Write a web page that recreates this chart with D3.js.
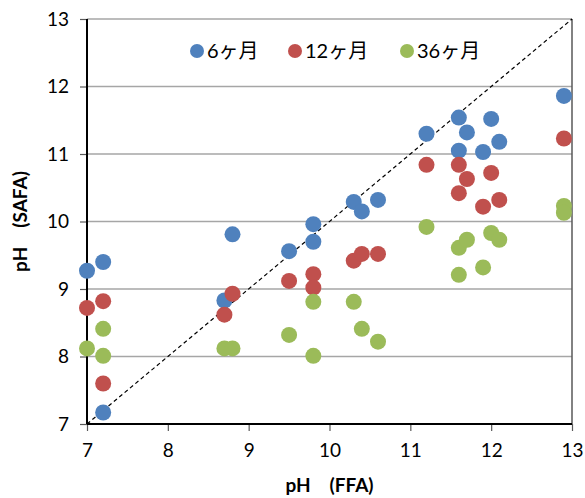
<!DOCTYPE html>
<html>
<head>
<meta charset="utf-8">
<script src="https://cdn.jsdelivr.net/npm/d3@7"></script>
<style>
  body { margin: 0; background: #fff; }
  text { font-family: Lato, "Noto Sans CJK JP", sans-serif; }
</style>
</head>
<body>
<svg width="585" height="498"></svg>
<script>
// series: pH by FFA (x) vs pH by SAFA (y)
var seriesNames = ["6ヶ月", "12ヶ月", "36ヶ月"];
var seriesColors = ["#4F81BD", "#C0504D", "#9BBB59"];

var m6x = [7.0, 7.2, 7.2, 8.7, 8.8, 9.5, 9.8, 9.8, 10.3, 10.4, 10.6, 11.2, 11.6, 11.7, 11.6, 11.9, 12.0, 12.1, 12.9];
var m6y = [9.27, 9.40, 7.17, 8.83, 9.81, 9.56, 9.96, 9.70, 10.29, 10.15, 10.32, 11.30, 11.54, 11.32, 11.05, 11.03, 11.52, 11.18, 11.86];

var m12x = [7.0, 7.2, 7.2, 8.7, 8.8, 9.5, 9.8, 9.8, 10.3, 10.4, 10.6, 11.2, 11.6, 11.7, 11.6, 11.9, 12.0, 12.1, 12.9];
var m12y = [8.72, 8.82, 7.60, 8.62, 8.93, 9.12, 9.22, 9.02, 9.42, 9.52, 9.52, 10.84, 10.84, 10.63, 10.42, 10.22, 10.72, 10.32, 11.23];

var m36x = [7.0, 7.2, 7.2, 8.7, 8.8, 9.5, 9.8, 9.8, 10.3, 10.4, 10.6, 11.2, 11.6, 11.7, 11.6, 11.9, 12.0, 12.1, 12.9, 12.9];
var m36y = [8.12, 8.41, 8.01, 8.12, 8.12, 8.32, 8.81, 8.01, 8.81, 8.41, 8.22, 9.92, 9.61, 9.73, 9.21, 9.32, 9.83, 9.73, 10.23, 10.13];

var xTicks = [7, 8, 9, 10, 11, 12, 13];
var yTicks = [7, 8, 9, 10, 11, 12, 13];
var diag = [7, 13];

var svg = d3.select("svg");
var margin = {left: 87, right: 13, top: 19, bottom: 74};
var W = 585 - margin.left - margin.right;
var H = 498 - margin.top - margin.bottom;

var x = d3.scaleLinear().domain([7, 13]).range([0, W]);
var y = d3.scaleLinear().domain([7, 13]).range([H, 0]);

var g = svg.append("g").attr("transform", "translate(" + margin.left + "," + margin.top + ")");

// gridlines
g.selectAll(".grid").data(yTicks.slice(1)).enter().append("line")
  .attr("x1", 0).attr("x2", W)
  .attr("y1", function(d){ return y(d); }).attr("y2", function(d){ return y(d); })
  .attr("stroke", "#a6a6a6").attr("stroke-width", 1.5);

// right border
g.append("line").attr("x1", W).attr("x2", W).attr("y1", 0).attr("y2", H)
  .attr("stroke", "#595959").attr("stroke-width", 1.5);

// axes
var xAxis = d3.axisBottom(x).tickValues(xTicks).tickSize(7).tickPadding(13).tickFormat(d3.format("d"));
var yAxis = d3.axisLeft(y).tickValues(yTicks).tickSize(7).tickPadding(11).tickFormat(d3.format("d"));

var xa = g.append("g").attr("transform", "translate(0," + H + ")").call(xAxis);
var ya = g.append("g").call(yAxis);
[xa, ya].forEach(function(a){
  a.select(".domain").remove();
  a.selectAll(".tick line").attr("stroke", "#595959").attr("stroke-width", 1.2);
  a.selectAll(".tick text").attr("fill", "#000").style("font-size", "19px");
});
g.append("line").attr("x1", 0).attr("x2", 0).attr("y1", 0).attr("y2", H)
  .attr("stroke", "#000").attr("stroke-width", 2);
g.append("line").attr("x1", 0).attr("x2", W).attr("y1", H).attr("y2", H)
  .attr("stroke", "#000").attr("stroke-width", 2);

// diagonal y = x
g.append("line")
  .attr("x1", x(diag[0])).attr("y1", y(diag[0]))
  .attr("x2", x(diag[1])).attr("y2", y(diag[1]))
  .attr("stroke", "#000").attr("stroke-width", 1.2).attr("stroke-dasharray", "4,3");

// points
var sets = [[m6x, m6y], [m12x, m12y], [m36x, m36y]];
sets.forEach(function(s, k){
  var pts = s[0].map(function(v, i){ return {x: v, y: s[1][i]}; });
  g.append("g").selectAll("circle").data(pts).enter().append("circle")
    .attr("cx", function(d){ return x(d.x); })
    .attr("cy", function(d){ return y(d.y); })
    .attr("r", 8)
    .attr("fill", seriesColors[k]);
});

// legend
var legX = [197, 295, 407];
seriesNames.forEach(function(n, k){
  var lg = svg.append("g").attr("transform", "translate(" + legX[k] + ",51)");
  lg.append("circle").attr("r", 7).attr("fill", seriesColors[k]);
  lg.append("text").attr("x", 10).attr("y", 7).style("font-size", "20px").text(n);
});

// axis titles
svg.append("text").attr("x", margin.left + W / 2).attr("y", 492)
  .attr("text-anchor", "middle").style("font-size", "19px").style("font-weight", "bold")
  .text("pH\u3000(FFA)");
svg.append("text").attr("transform", "translate(27," + (margin.top + H / 2) + ") rotate(-90)")
  .attr("text-anchor", "middle").style("font-size", "19px").style("font-weight", "bold")
  .text("pH\u3000(SAFA)");
</script>
</body>
</html>
